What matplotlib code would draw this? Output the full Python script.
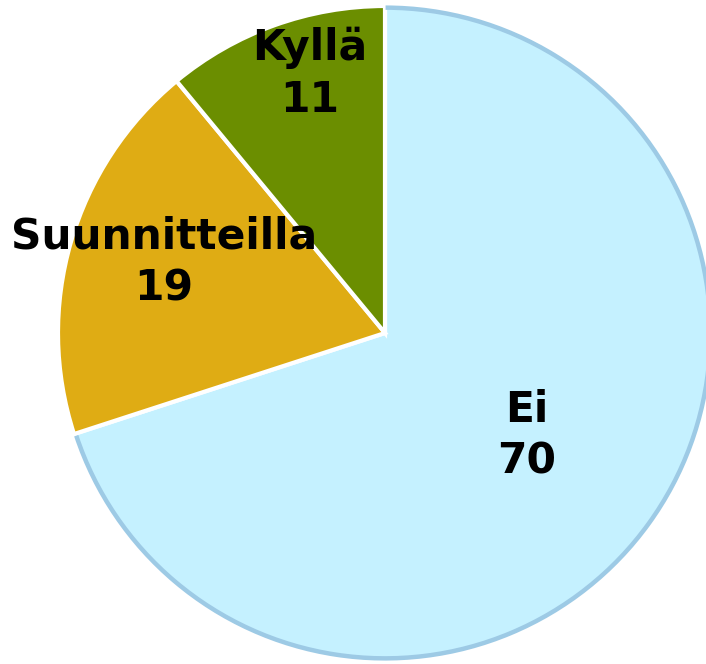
import numpy as np
import matplotlib.pyplot as plt
from matplotlib.patches import Arc

# Slice data, clockwise from 12 o'clock
labels = ['Ei', 'Suunnitteilla', 'Kyllä']
values = [70, 19, 11]
colors = ['#C5F1FF', '#DFAC14', '#6B8E00']

# label placement tweaks (fraction of radius, degrees)
label_dist = [0.535, 0.71, 0.825]
label_turn = [0, -1.5, -3.5]


def main():
    fig = plt.figure(figsize=(7.06, 6.64), dpi=100)
    R = 327
    ax = fig.add_axes([(385 - R) / 706, (664 - 333 - R) / 664, 2 * R / 706, 2 * R / 664])

    wedges, _ = ax.pie(values, colors=colors, startangle=90, counterclock=False,
                       radius=1.0, wedgeprops=dict(edgecolor='white', linewidth=3))
    for w in wedges:
        w.set_clip_on(False)

    # blue rim on the outer edge of the "Ei" slice
    ei = wedges[0]
    rim = Arc((0, 0), 2 * 0.995, 2 * 0.995, theta1=ei.theta1 + 0.4, theta2=ei.theta2 - 0.1,
              color='#9DCAE5', linewidth=3.2, clip_on=False)
    ax.add_patch(rim)

    for w, lab, v, d, t in zip(wedges, labels, values, label_dist, label_turn):
        mid = np.deg2rad((w.theta1 + w.theta2) / 2 + t)
        ax.text(d * np.cos(mid), d * np.sin(mid), f'{lab}\n{v}', ha='center', va='center',
                fontsize=30.5, fontweight='bold', color='black', linespacing=1.3,
                family='DejaVu Sans')

    ax.set_xlim(-1, 1)
    ax.set_ylim(-1, 1)
    ax.set_aspect('equal')
    ax.axis('off')

    fig.savefig('out.png', dpi=100)


if __name__ == '__main__':
    main()
